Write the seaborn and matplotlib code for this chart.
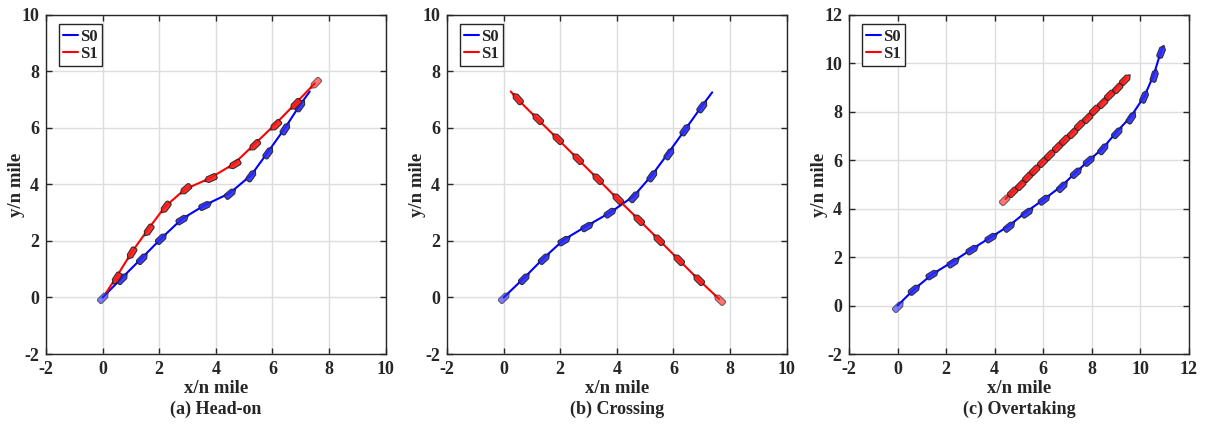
import numpy as np
import matplotlib
matplotlib.use("Agg")
import matplotlib.pyplot as plt
from matplotlib.markers import MarkerStyle
from matplotlib.path import Path
from matplotlib.transforms import Affine2D
import seaborn as sns

# ship tracks (n mile)
# (a) head-on
a_s0_x = [0.0, 0.67, 1.38, 2.08, 2.79, 3.61, 4.49, 5.26, 5.85, 6.44, 6.97, 7.32]
a_s0_y = [0.0, 0.68, 1.39, 2.10, 2.77, 3.27, 3.69, 4.34, 5.16, 5.99, 6.81, 7.29]
a_s1_x = [7.50, 6.79, 6.08, 5.34, 4.64, 3.79, 2.91, 2.20, 1.59, 1.02, 0.47, 0.12]
a_s1_y = [7.58, 6.84, 6.11, 5.40, 4.73, 4.22, 3.83, 3.21, 2.39, 1.59, 0.70, 0.16]
# (b) crossing
b_s0_x = [0.0, 0.71, 1.41, 2.12, 2.95, 3.77, 4.60, 5.25, 5.83, 6.42, 7.01, 7.37]
b_s0_y = [0.0, 0.68, 1.39, 2.04, 2.54, 3.01, 3.59, 4.34, 5.13, 5.95, 6.78, 7.26]
b_s1_x = [7.61, 6.87, 6.16, 5.46, 4.75, 4.00, 3.30, 2.59, 1.88, 1.17, 0.46, 0.25]
b_s1_y = [-0.05, 0.65, 1.36, 2.07, 2.78, 3.51, 4.22, 4.93, 5.64, 6.34, 7.05, 7.29]
# (c) overtaking
c_s0_x = [0.0, 0.68, 1.44, 2.27, 3.05, 3.84, 4.59, 5.32, 6.04, 6.77, 7.35, 7.91,
          8.46, 9.04, 9.62, 10.18, 10.56, 10.87, 10.93]
c_s0_y = [0.0, 0.67, 1.30, 1.81, 2.32, 2.82, 3.29, 3.88, 4.39, 4.94, 5.50, 6.01,
          6.49, 7.18, 7.80, 8.65, 9.52, 10.53, 10.68]
c_s1_x = [4.45, 4.76, 5.07, 5.38, 5.68, 5.99, 6.30, 6.61, 6.92, 7.22, 7.53, 7.84,
          8.15, 8.46, 8.76, 9.07, 9.36, 9.42]
c_s1_y = [4.40, 4.71, 5.02, 5.33, 5.64, 5.95, 6.26, 6.57, 6.88, 7.18, 7.49, 7.80,
          8.11, 8.42, 8.72, 9.03, 9.34, 9.40]

panels = [
    ("(a) Head-on", (-2, 10), (-2, 10), [(a_s0_x, a_s0_y), (a_s1_x, a_s1_y)]),
    ("(b) Crossing", (-2, 10), (-2, 10), [(b_s0_x, b_s0_y), (b_s1_x, b_s1_y)]),
    ("(c) Overtaking", (-2, 12), (-2, 12), [(c_s0_x, c_s0_y), (c_s1_x, c_s1_y)]),
]
names = ["S0", "S1"]
line_colors = ["#0000ff", "#ff0000"]
fill_colors = ["#2a2aff", "#ff1a1a"]

sns.set_theme(style="ticks")
plt.rcParams['font.family'] = ['Liberation Serif', 'DejaVu Serif']
plt.rcParams['font.weight'] = 'bold'
plt.rcParams['axes.unicode_minus'] = False

# little ship outline, bow pointing along +x
ship = Path([(-1, -0.3), (-0.8, -0.46), (0.45, -0.46), (1, 0), (0.45, 0.46),
             (-0.8, 0.46), (-1, 0.3), (-1, -0.3)],
            [Path.MOVETO] + [Path.LINETO] * 6 + [Path.CLOSEPOLY])

fig = plt.figure(figsize=(12.05, 4.26), dpi=100)
lefts = [0.0382, 0.371, 0.7046]

for i, (title, xl, yl, tracks) in enumerate(panels):
    ax = fig.add_axes([lefts[i], 0.169, 0.2818, 0.796])
    for k, (tx, ty) in enumerate(tracks):
        sns.lineplot(x=tx, y=ty, sort=False, estimator=None, color=line_colors[k],
                     lw=1.5, label=names[k], ax=ax, zorder=3)
        for j in range(len(tx) - 1):
            ang = np.degrees(np.arctan2(ty[j + 1] - ty[j], tx[j + 1] - tx[j]))
            m = MarkerStyle(ship, transform=Affine2D().rotate_deg(ang))
            ax.plot(tx[j], ty[j], marker=m, ms=9.5, ls='none',
                    mfc=fill_colors[k], mec='#222222', mew=0.8,
                    alpha=0.6 if j == 0 else 0.9, zorder=4)
    ax.set_xlim(*xl)
    ax.set_ylim(*yl)
    ax.set_xticks(np.arange(xl[0], xl[1] + 1, 2))
    ax.set_yticks(np.arange(yl[0], yl[1] + 1, 2))
    ax.grid(True, color='#dddddd', lw=1.0)
    ax.tick_params(direction='in', length=4, width=1, top=True, right=True,
                   labelsize=13, color='#262626', pad=5)
    for lab in ax.get_xticklabels() + ax.get_yticklabels():
        lab.set_fontweight('bold')
    for s in ax.spines.values():
        s.set_color('#262626')
        s.set_linewidth(1.0)
    ax.set_xlabel("")
    ax.set_ylabel("y/n mile", fontsize=13.5, fontweight='bold', labelpad=-3)
    ax.text(0.5, -0.102, "x/n mile", transform=ax.transAxes, ha='center', va='center',
            fontsize=13.5, fontweight='bold')
    ax.text(0.5, -0.163, title, transform=ax.transAxes, ha='center', va='center',
            fontsize=13, fontweight='bold')
    leg = ax.legend(loc='upper left', bbox_to_anchor=(0.037, 0.972), borderaxespad=0,
                    fancybox=False, framealpha=1, edgecolor='#262626',
                    handlelength=0.9, handletextpad=0.15, borderpad=0.25,
                    labelspacing=0.1, prop={'weight': 'bold', 'size': 12})
    leg.get_frame().set_linewidth(1.0)

fig.savefig("out.png", dpi=100)
